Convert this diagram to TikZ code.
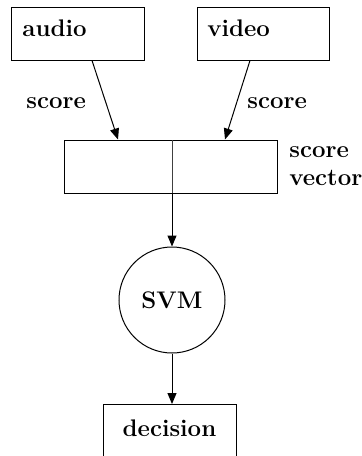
\documentclass[tikz,border=0pt]{standalone}
\usetikzlibrary{arrows.meta}
\begin{document}
\begin{tikzpicture}[x=0.5pt,y=-0.5pt,
  every node/.style={font=\fontsize{12}{14}\selectfont\bfseries},
  boxnode/.style={draw, line width=0.5pt, inner sep=0pt},
  txt/.style={inner sep=0pt, anchor=base west},
  conn/.style={line width=0.5pt, -{Triangle[length=5.5pt,width=4.5pt]}}]
\useasboundingbox (0,0) rectangle (361,456);
\clip (0,0) rectangle (361,456);
% boxes
\node[boxnode, minimum width=66.5pt, minimum height=26.5pt] (audio) at (77.5,33.5) {};
\node[txt] (audiotxt) at (22,36) {audio};
\node[boxnode, minimum width=66pt, minimum height=26.5pt] (video) at (263,33.5) {};
\node[txt] (videotxt) at (207,36) {video};
\node[boxnode, minimum width=106.5pt, minimum height=26.5pt] (vec) at (170.5,166.5) {};
\draw[line width=0.5pt, black!75] (172,140) coordinate (divtop) -- (172,193) coordinate (divbot);
\node[txt] (vectxt1) at (289,157) {score};
\node[txt] (vectxt2) at (289,185) {vector};
\node[draw, circle, line width=0.5pt, minimum size=53pt, inner sep=0pt] (svm) at (172,300) {SVM};
\node[boxnode, minimum width=66.5pt, minimum height=45pt, anchor=north] (dec) at (169.5,404) {};
\node[txt, anchor=base] (dectxt) at (169.5,436) {decision};
% labels
\node[txt] (sl) at (26,108) {score};
\node[txt] (sr) at (247,108) {score};
% connectors
\draw[conn] ([xshift=7.25pt]audio.south) -- ([xshift=-26.25pt]vec.north);
\draw[conn] ([xshift=-6.5pt]video.south) -- ([xshift=27.25pt]vec.north);
\draw[conn] (divbot) -- (svm.north);
\draw[conn] (svm.south) -- ([xshift=1.25pt]dec.north);
\end{tikzpicture}
\end{document}
